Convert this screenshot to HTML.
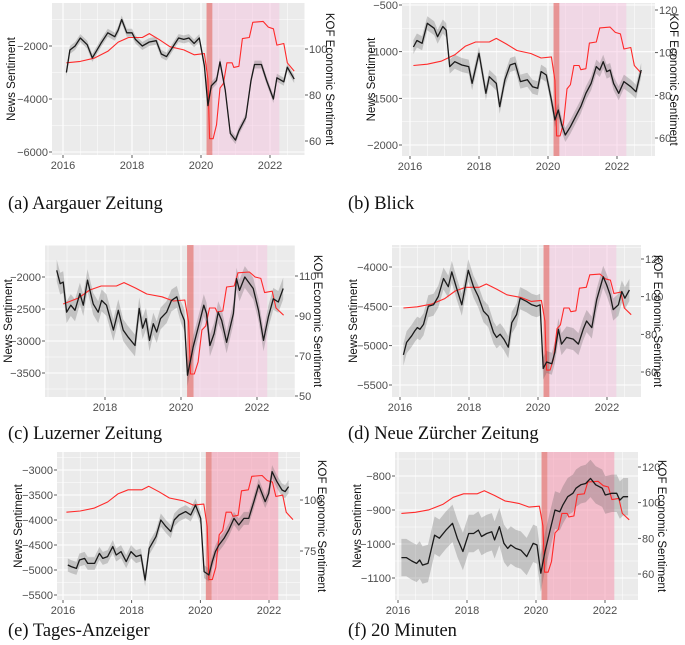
<!DOCTYPE html>
<html><head><meta charset="utf-8">
<style>
html,body{margin:0;padding:0;background:#fff;overflow:hidden;width:685px;height:645px;}
svg{display:block;}
text{font-family:"Liberation Sans",sans-serif;}
.cap{font-family:"Liberation Serif",serif;font-size:18.5px;fill:#111;}
</style></head>
<body>
<svg id="fig" width="685" height="645" viewBox="0 0 685 645" xmlns="http://www.w3.org/2000/svg"></svg>
<script>
// Shared KOF economic barometer series
const kofDates=[2016.1,2016.5,2016.9,2017.3,2017.6,2017.9,2018.3,2018.5,2018.8,2019.1,2019.5,2019.8,2020.1,2020.2,2020.25,2020.35,2020.45,2020.55,2020.65,2020.75,2020.9,2020.95,2021.1,2021.2,2021.4,2021.5,2021.8,2021.95,2022.1,2022.2,2022.4,2022.5,2022.7];
const kofValues=[94,94.6,96,99,103,105,105,106.7,104,101,99.6,97.5,98,87,61,61,67,83,85,94,94,92,92.5,104.5,105,111.6,112,109.5,108.8,101.7,102.4,94,90.4];
const covidPeriod=[2020.16,2020.33,2022.27];

const aDates=[2016.1,2016.2,2016.35,2016.5,2016.7,2016.85,2017.1,2017.3,2017.5,2017.6,2017.7,2017.85,2018.0,2018.1,2018.3,2018.5,2018.7,2018.85,2019.0,2019.2,2019.35,2019.5,2019.65,2019.8,2019.95,2020.1,2020.2,2020.3,2020.45,2020.55,2020.7,2020.85,2021.0,2021.1,2021.3,2021.45,2021.55,2021.75,2021.9,2022.1,2022.2,2022.4,2022.5,2022.7];
const aNews=[-3000,-2150,-2000,-1700,-1950,-2450,-1900,-1500,-1650,-1400,-1000,-1500,-1500,-1750,-2000,-1850,-1800,-2300,-2400,-2000,-1700,-1750,-1700,-1900,-1700,-2750,-4250,-3500,-3300,-2600,-3650,-5300,-5550,-5200,-4700,-3300,-2700,-2700,-3300,-4000,-3200,-3350,-2800,-3250];

const bDates=[2016.1,2016.2,2016.35,2016.5,2016.7,2016.8,2016.95,2017.05,2017.15,2017.3,2017.5,2017.7,2017.8,2018.0,2018.2,2018.3,2018.5,2018.6,2018.75,2018.9,2019.05,2019.2,2019.4,2019.55,2019.7,2019.8,2019.95,2020.1,2020.2,2020.3,2020.4,2020.5,2020.65,2020.8,2020.95,2021.1,2021.25,2021.4,2021.5,2021.6,2021.7,2021.8,2021.9,2022.05,2022.2,2022.4,2022.55,2022.7];
const bNews=[-950,-880,-910,-696,-750,-840,-730,-770,-1160,-1107,-1143,-1160,-1340,-1018,-1446,-1268,-1340,-1590,-1300,-1143,-1125,-1321,-1300,-1375,-1393,-1214,-1250,-1518,-1732,-1625,-1786,-1893,-1804,-1696,-1589,-1446,-1340,-1160,-1196,-1107,-1214,-1196,-1340,-1446,-1321,-1375,-1430,-1196];

const cDates=[2016.73,2016.82,2016.9,2016.99,2017.1,2017.21,2017.34,2017.43,2017.54,2017.69,2017.82,2017.91,2018.04,2018.22,2018.35,2018.48,2018.61,2018.79,2018.9,2018.99,2019.08,2019.17,2019.27,2019.36,2019.46,2019.62,2019.75,2019.89,2020.0,2020.09,2020.17,2020.32,2020.5,2020.6,2020.67,2020.76,2020.87,2020.98,2021.07,2021.2,2021.38,2021.46,2021.54,2021.68,2021.9,2022.04,2022.17,2022.3,2022.43,2022.56,2022.69];
const cNews=[-1896,-2104,-2080,-2550,-2440,-2520,-2260,-2440,-2050,-2420,-2550,-2365,-2440,-2830,-2520,-2830,-2940,-3070,-2490,-2800,-2650,-2990,-2730,-2860,-2650,-2550,-2365,-2310,-2550,-2680,-3535,-3090,-2680,-2440,-2570,-3070,-2885,-2550,-2680,-3020,-2570,-2025,-2210,-2000,-2180,-2520,-2990,-2620,-2340,-2390,-2180];

const dDates=[2016.1,2016.19,2016.34,2016.43,2016.5,2016.58,2016.68,2016.82,2016.97,2017.11,2017.26,2017.4,2017.5,2017.64,2017.79,2017.98,2018.13,2018.27,2018.42,2018.56,2018.71,2018.8,2018.9,2019.01,2019.14,2019.24,2019.38,2019.48,2019.67,2019.82,2019.96,2020.06,2020.15,2020.25,2020.4,2020.49,2020.59,2020.68,2020.83,2021.02,2021.17,2021.31,2021.41,2021.56,2021.7,2021.89,2021.99,2022.09,2022.18,2022.33,2022.43,2022.52,2022.65];
const dNews=[-5117,-4958,-4875,-4812,-4770,-4792,-4730,-4500,-4480,-4375,-4146,-4250,-4062,-4270,-4480,-4042,-4250,-4375,-4562,-4625,-4833,-4895,-4854,-4916,-5020,-4708,-4604,-4396,-4437,-4480,-4500,-4480,-5290,-5208,-5230,-5083,-4792,-4980,-4895,-4916,-4980,-4792,-4687,-4770,-4416,-4125,-4229,-4354,-4541,-4480,-4312,-4396,-4292];

const eDates=[2016.14,2016.24,2016.39,2016.48,2016.63,2016.72,2016.92,2017.06,2017.16,2017.3,2017.45,2017.55,2017.69,2017.84,2017.98,2018.13,2018.27,2018.39,2018.51,2018.71,2018.85,2019.0,2019.14,2019.24,2019.38,2019.57,2019.72,2019.86,2020.01,2020.11,2020.25,2020.35,2020.44,2020.54,2020.69,2020.83,2020.98,2021.12,2021.27,2021.41,2021.56,2021.7,2021.89,2021.99,2022.09,2022.23,2022.38,2022.47,2022.57];
const eNews=[-4900,-4933,-4967,-4800,-4767,-4867,-4867,-4667,-4767,-4733,-4533,-4700,-4633,-4833,-4633,-4733,-4700,-5200,-4567,-4333,-4000,-4133,-4233,-4000,-3900,-3833,-3900,-3700,-3967,-5033,-5100,-4833,-4633,-4500,-4367,-4200,-3967,-4100,-3967,-3967,-3633,-3300,-3633,-3467,-3033,-3233,-3400,-3433,-3333];

const fDates=[2016.1,2016.24,2016.4,2016.54,2016.63,2016.71,2016.87,2017.06,2017.2,2017.39,2017.58,2017.72,2017.88,2018.05,2018.19,2018.33,2018.42,2018.57,2018.72,2018.8,2018.94,2019.07,2019.18,2019.27,2019.41,2019.56,2019.73,2019.92,2020.03,2020.14,2020.26,2020.41,2020.55,2020.69,2020.78,2020.92,2021.07,2021.16,2021.3,2021.44,2021.58,2021.73,2021.92,2022.01,2022.2,2022.34,2022.43,2022.53,2022.67];
const fNews=[-1040,-1040,-1050,-1057,-1047,-1062,-1057,-974,-983,-959,-939,-983,-1022,-969,-969,-959,-978,-969,-964,-988,-949,-998,-1013,-1003,-1013,-1018,-1037,-998,-1003,-1086,-1022,-959,-900,-905,-885,-861,-851,-836,-826,-822,-807,-826,-836,-856,-851,-851,-871,-861,-861];

const bandHalfWidth=[150,75,170,140,130,55];
const leftTicksA=[-2000,-4000,-6000], rightTicksA=[100,80,60];
const leftTicksB=[-500,-1000,-1500,-2000], rightTicksB=[120,100,80,60];
const leftTicksC=[-2000,-2500,-3000,-3500], rightTicksC=[110,90,70,50];
const leftTicksD=[-4000,-4500,-5000,-5500], rightTicksD=[120,100,80,60];
const leftTicksE=[-3000,-3500,-4000,-4500,-5000,-5500], rightTicksE=[100,75];
const leftTicksF=[-800,-900,-1000,-1100], rightTicksF=[120,100,80,60];
const yearTicksFull=[2016,2018,2020,2022], yearTicksC=[2018,2020,2022];
const captions=["(a) Aargauer Zeitung","(b) Blick","(c) Luzerner Zeitung","(d) Neue Zürcher Zeitung","(e) Tages-Anzeiger","(f) 20 Minuten"];

const NS="http://www.w3.org/2000/svg";
const svg=document.getElementById('fig');
function mk(tag,attrs,parent){const e=document.createElementNS(NS,tag);for(const k in attrs)e.setAttribute(k,attrs[k]);(parent||svg).appendChild(e);return e;}
function lin(d0,r0,d1,r1){return v=>r0+(v-d0)*(r1-r0)/(d1-d0);}

const panels=[
 {id:'a',r:[52,305,3,155],yr:[2016,63,2022,270],L:[-2000,46,-6000,152],R:[100,49,60,141],lt:leftTicksA,rt:rightTicksA,xt:yearTicksFull,dates:aDates,news:aNews,ytx:11,rtx:330,cap:[8,209],pink:'rgba(246,190,222,0.45)',kofStart:2016.1},
 {id:'b',r:[402,655,3,156],yr:[2016,410,2022,617],L:[-500,5,-2000,145],R:[120,10,60,138],lt:leftTicksB,rt:rightTicksB,xt:yearTicksFull,dates:bDates,news:bNews,ytx:371,rtx:674,cap:[348,209],pink:'rgba(246,190,222,0.45)',kofStart:2016.1},
 {id:'c',r:[45,295,245,397],yr:[2018,105,2022,257],L:[-2000,277,-3500,373],R:[110,276,50,396],lt:leftTicksC,rt:rightTicksC,xt:yearTicksC,dates:cDates,news:cNews,ytx:8,rtx:318,cap:[8,439],pink:'rgba(246,190,222,0.45)',kofStart:2016.75},
 {id:'d',r:[392,641,245,397],yr:[2016,400,2022,607],L:[-4000,267,-5500,385],R:[120,259,60,372],lt:leftTicksD,rt:rightTicksD,xt:yearTicksFull,dates:dDates,news:dNews,ytx:353,rtx:658,cap:[348,439],pink:'rgba(246,190,222,0.45)',kofStart:2016.1},
 {id:'e',r:[57,300,452,600],yr:[2016,63,2022,269],L:[-3000,470,-5500,595],R:[100,500,75,551],lt:leftTicksE,rt:rightTicksE,xt:yearTicksFull,dates:eDates,news:eNews,ytx:18,rtx:322,cap:[8,636],pink:'rgba(245,150,175,0.55)',kofStart:2016.1},
 {id:'f',r:[395,638,452,600],yr:[2016,398,2022,605],L:[-800,476,-1100,578],R:[120,467,60,574],lt:leftTicksF,rt:rightTicksF,xt:yearTicksFull,dates:fDates,news:fNews,ytx:357,rtx:662,cap:[348,636],pink:'rgba(245,150,175,0.55)',kofStart:2016.1}
];

panels.forEach((p,pi)=>{
  const [x0,x1,y0,y1]=p.r;
  const X=lin(p.yr[0],p.yr[1],p.yr[2],p.yr[3]);
  const YL=lin(p.L[0],p.L[1],p.L[2],p.L[3]);
  const YR=lin(p.R[0],p.R[1],p.R[2],p.R[3]);
  const g=mk('g',{});
  
  
  const cp=mk('clipPath',{id:'clip'+p.id},g);
  mk('rect',{x:x0,y:y0,width:x1-x0,height:y1-y0},cp);
  const bg=mk('rect',{x:x0,y:y0,width:x1-x0,height:y1-y0,fill:'#ebebeb'},g);
  
  
  const dl=Math.abs(p.lt[1]-p.lt[0]);
  const gg=mk('g',{'clip-path':'url(#clip'+p.id+')'},g);
  for(let y=2015;y<=2024;y+=0.5){
    const xx=X(y);
    mk('line',{x1:xx,x2:xx,y1:y0,y2:y1,stroke:'#fff','stroke-width':(y%1===0&&y%2===0)?1.1:0.5},gg);
  }
  for(let k=-4;k<p.lt.length+4;k+=0.5){
    const v=p.lt[0]-k*dl*Math.sign(p.lt[0]-p.lt[1]);
    const yy=YL(v);
    mk('line',{x1:x0,x2:x1,y1:yy,y2:yy,stroke:'#fff','stroke-width':(k%1===0)?1.1:0.5},gg);
  }
  const dark=mk('rect',{x:X(covidPeriod[0]),y:y0,width:X(covidPeriod[1])-X(covidPeriod[0]),height:y1-y0,fill:'rgba(228,90,90,0.6)'},gg);
  
  
  const pink=mk('rect',{x:X(covidPeriod[1]),y:y0,width:X(covidPeriod[2])-X(covidPeriod[1]),height:y1-y0,fill:p.pink},gg);
  
  
  const hw=bandHalfWidth[pi];
  let pts=p.dates.map((d,i)=>X(d).toFixed(1)+','+YL(p.news[i]+hw).toFixed(1));
  let lo=p.dates.map((d,i)=>X(d).toFixed(1)+','+YL(p.news[i]-hw).toFixed(1)).reverse();
  const band=mk('polygon',{points:pts.concat(lo).join(' '),fill:'rgba(90,90,90,0.28)'},gg);
  
  
  const kp=[];
  kofDates.forEach((d,i)=>{if(d>=p.kofStart-0.05)kp.push(X(d).toFixed(1)+','+YR(kofValues[i]).toFixed(1));});
  const kl=mk('polyline',{points:kp.join(' '),fill:'none',stroke:'#ff2a2a','stroke-width':1.1,'stroke-linejoin':'round'},gg);
  
  
  const nl=mk('polyline',{points:p.dates.map((d,i)=>X(d).toFixed(1)+','+YL(p.news[i]).toFixed(1)).join(' '),fill:'none',stroke:'#1a1a1a','stroke-width':1.3,'stroke-linejoin':'round'},gg);
  
  
  p.lt.forEach(v=>{
    const yy=YL(v);
    mk('line',{x1:x0-3,x2:x0,y1:yy,y2:yy,stroke:'#333','stroke-width':0.8},g);
    const t=mk('text',{x:x0-4,y:yy+4,'text-anchor':'end','font-size':11,fill:'#4d4d4d'},g);
    t.textContent=String(v).replace('-','\u2212');
    
    
  });
  p.rt.forEach(v=>{
    const yy=YR(v);
    mk('line',{x1:x1,x2:x1+3,y1:yy,y2:yy,stroke:'#333','stroke-width':0.8},g);
    const t=mk('text',{x:x1+4,y:yy+4,'font-size':11,fill:'#4d4d4d'},g);
    t.textContent=v;
    
    
  });
  p.xt.forEach(v=>{
    const xx=X(v);
    mk('line',{x1:xx,x2:xx,y1:y1,y2:y1+3,stroke:'#333','stroke-width':0.8},g);
    const t=mk('text',{x:xx,y:y1+14,'text-anchor':'middle','font-size':11,fill:'#4d4d4d'},g);
    t.textContent=v;
    
    
  });
  const cy=(y0+y1)/2;
  const lt=mk('text',{x:p.ytx,y:cy,'text-anchor':'middle','font-size':11.5,fill:'#111',transform:`rotate(-90 ${p.ytx} ${cy})`,dy:4},g);
  lt.textContent='News Sentiment';
  
  
  const rt=mk('text',{x:p.rtx,y:cy,'text-anchor':'middle','font-size':11.5,fill:'#111',transform:`rotate(90 ${p.rtx} ${cy})`,dy:4},g);
  rt.textContent='KOF Economic Sentiment';
  
  
  const c=mk('text',{x:p.cap[0],y:p.cap[1],class:'cap'},g);
  c.textContent=captions[pi];
  
  
});
</script>
</body></html>
